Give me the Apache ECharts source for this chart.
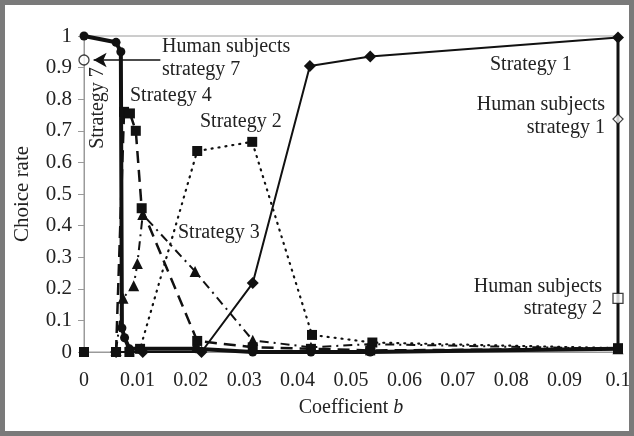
<!DOCTYPE html>
<html>
<head>
    <meta charset="utf-8">
    <script src="https://cdn.jsdelivr.net/npm/echarts@6/dist/echarts.min.js"></script>
    <style>
        body { margin: 0; background: #fff; }
        #main { width: 634px; height: 436px; }
        #frame { position: absolute; left: 0; top: 0; width: 634px; height: 436px; box-sizing: border-box;
                 border: 5px solid #7a7a7a; pointer-events: none; }
    </style>
</head>
<body>
    <div id="main"></div>
    <div id="frame"></div>
    <script type="text/javascript">
        // Strategy 7 (thick solid, circles)
        var b7 = [0, 0.006, 0.0069, 0.0071, 0.0076, 0.0085, 0.0105, 0.021, 0.0316, 0.0425, 0.0536, 0.1];
        var rate7 = [1, 0.98, 0.95, 0.076, 0.045, 0.01, 0.01, 0.01, 0, 0, 0, 0.01];
        // Strategy 4 (dashed, squares); null = gap after the lone point at b = 0
        var b4 = [0, 0.003, 0.006, 0.0075, 0.0086, 0.0097, 0.0108, 0.0212, 0.0316, 0.0425, 0.0536, 0.1];
        var rate4 = [0, null, 0, 0.76, 0.755, 0.70, 0.455, 0.035, 0.015, 0.01, 0.005, 0.01];
        // Strategy 2 (dotted, squares)
        var b2 = [0.006, 0.0085, 0.0105, 0.0212, 0.0315, 0.0427, 0.054, 0.1];
        var rate2 = [0, 0, 0.01, 0.636, 0.665, 0.054, 0.03, 0.012];
        // Strategy 3 (dash-dot, triangles)
        var b3 = [0.006, 0.0073, 0.0093, 0.0100, 0.011, 0.0208, 0.0316, 0.0425, 0.0536, 0.1];
        var rate3 = [0.005, 0.17, 0.21, 0.28, 0.435, 0.255, 0.037, 0.015, 0.025, 0.01];
        // Strategy 1 (solid, diamonds)
        var b1 = [0.006, 0.011, 0.022, 0.0316, 0.0423, 0.0536, 0.1];
        var rate1 = [0, 0, 0, 0.218, 0.905, 0.935, 0.995];
        // Human subjects
        var humanB = [0, 0.1, 0.1];
        var humanRate = [0.924, 0.737, 0.17];
        var humanSymbols = ['circle', 'diamond', 'rect'];
        // vertical line at b = 0.1
        var edgeB = [0.1, 0.1];
        var edgeRate = [0.995, 0];

        function pairs(xs, ys) {
            return xs.map(function (x, i) { return [x, ys[i]]; });
        }

        var serif = '"Liberation Serif", "DejaVu Serif", serif';
        var myChart = echarts.init(document.getElementById('main'));

        function txt(pos, s) {
            var g = { type: 'text', style: { text: s, font: '20px ' + serif, fill: '#222' } };
            for (var k in pos) g[k] = pos[k];
            return g;
        }

        var option = {
            animation: false,
            grid: {
                left: 84, right: 16, top: 36, bottom: 84,
                show: true, borderColor: '#9a9a9a', borderWidth: 1
            },
            xAxis: {
                type: 'value', min: 0, max: 0.1, interval: 0.01,
                name: 'Coefficient {i|b}',
                nameLocation: 'middle', nameGap: 46,
                nameTextStyle: {
                    fontFamily: serif, fontSize: 20, color: '#222',
                    rich: { i: { fontFamily: serif, fontSize: 20, fontStyle: 'italic', color: '#222' } }
                },
                axisLine: { lineStyle: { color: '#9a9a9a' } },
                axisTick: { show: false },
                splitLine: { show: false },
                axisLabel: {
                    fontFamily: serif, fontSize: 20, color: '#222', margin: 19,
                    formatter: function (v) { return String(+v.toFixed(2)); }
                }
            },
            yAxis: {
                type: 'value', min: 0, max: 1, interval: 0.1,
                name: 'Choice rate',
                nameLocation: 'middle', nameGap: 51,
                nameTextStyle: { fontFamily: serif, fontSize: 21, color: '#222' },
                axisLine: { show: true, lineStyle: { color: '#9a9a9a' } },
                axisTick: { show: true, length: 6, lineStyle: { color: '#9a9a9a' } },
                splitLine: { show: false },
                axisLabel: {
                    fontFamily: serif, fontSize: 21, color: '#222', margin: 12,
                    formatter: function (v) { return String(+v.toFixed(1)); }
                }
            },
            series: [
                {
                    name: 'Strategy 2', type: 'line', data: pairs(b2, rate2),
                    symbol: 'rect', symbolSize: 10, showAllSymbol: true,
                    itemStyle: { color: '#111' },
                    lineStyle: { color: '#111', width: 2.2, type: [1, 6], cap: 'round' },
                    z: 3
                },
                {
                    name: 'Strategy 3', type: 'line', data: pairs(b3, rate3),
                    symbol: 'triangle', symbolSize: 11, showAllSymbol: true,
                    itemStyle: { color: '#111' },
                    lineStyle: { color: '#111', width: 2, type: [9, 5, 2, 5] },
                    z: 3
                },
                {
                    name: 'Strategy 4', type: 'line', data: pairs(b4, rate4),
                    symbol: 'rect', symbolSize: 10, showAllSymbol: true,
                    connectNulls: false,
                    itemStyle: { color: '#111' },
                    lineStyle: { color: '#111', width: 2.5, type: [12, 7] },
                    z: 4
                },
                {
                    name: 'Strategy 1', type: 'line', data: pairs(b1, rate1),
                    symbol: 'diamond', symbolSize: 12, showAllSymbol: true,
                    itemStyle: { color: '#111' },
                    lineStyle: { color: '#111', width: 2 },
                    z: 4
                },
                {
                    name: 'Strategy 7', type: 'line', data: pairs(b7, rate7),
                    symbol: 'circle', symbolSize: 9, showAllSymbol: true,
                    itemStyle: { color: '#111' },
                    lineStyle: { color: '#111', width: 4 },
                    z: 5
                },
                {
                    name: 'edge', type: 'line', data: pairs(edgeB, edgeRate),
                    symbol: 'none',
                    lineStyle: { color: '#111', width: 3 },
                    z: 5
                },
                {
                    name: 'Human subjects', type: 'scatter',
                    data: humanB.map(function (b, i) {
                        return { value: [b, humanRate[i]], symbol: humanSymbols[i] };
                    }),
                    symbolSize: 10,
                    itemStyle: { color: '#fff', borderColor: '#111', borderWidth: 1.3 },
                    markLine: {
                        silent: true,
                        symbol: ['none', 'arrow'],
                        symbolSize: [11, 13],
                        label: { show: false },
                        lineStyle: { color: '#111', width: 1.5, type: 'solid' },
                        data: [[{ coord: [0.0143, humanRate[0]] }, { coord: [0.0018, humanRate[0]] }]]
                    },
                    z: 6
                }
            ],
            graphic: [
                txt({ left: 162, top: 37 }, 'Human subjects'),
                txt({ left: 162, top: 60 }, 'strategy 7'),
                txt({ left: 130, top: 86 }, 'Strategy 4'),
                txt({ left: 200, top: 112 }, 'Strategy 2'),
                txt({ left: 178, top: 223 }, 'Strategy 3'),
                txt({ left: 490, top: 55 }, 'Strategy 1'),
                txt({ right: 29, top: 95 }, 'Human subjects'),
                txt({ right: 29, top: 118 }, 'strategy 1'),
                txt({ right: 32, top: 277 }, 'Human subjects'),
                txt({ right: 32, top: 299 }, 'strategy 2'),
                {
                    type: 'text', x: 98, y: 108, rotation: Math.PI / 2,
                    style: { text: 'Strategy 7', font: '20px ' + serif, fill: '#222', align: 'center', verticalAlign: 'middle' }
                }
            ]
        };

        myChart.setOption(option);
    </script>
</body>
</html>
